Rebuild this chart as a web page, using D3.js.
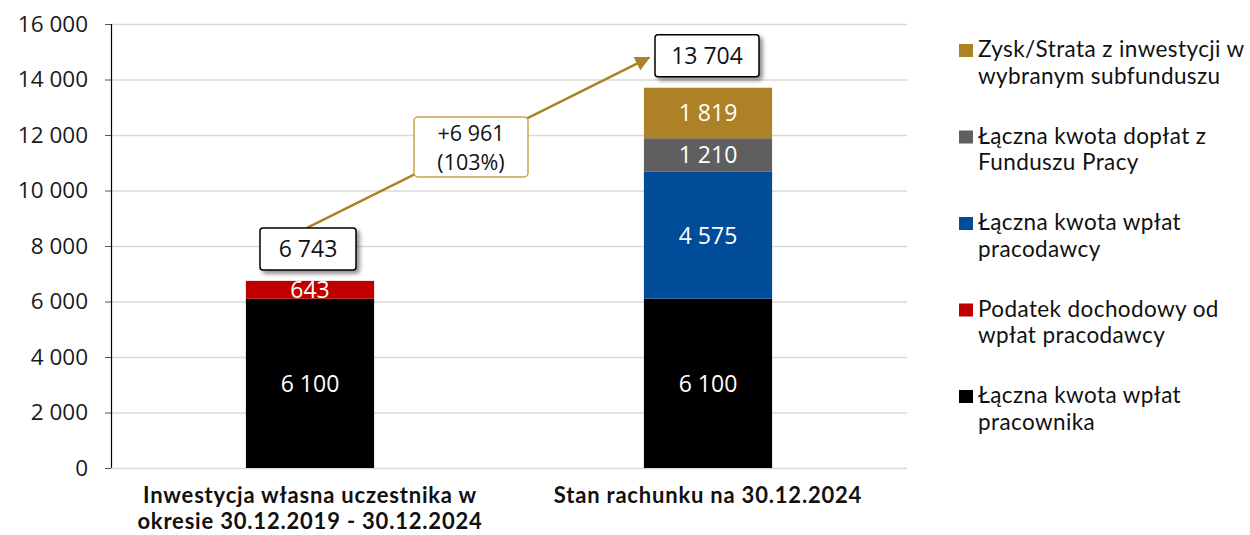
<!DOCTYPE html>
<html><head><meta charset="utf-8">
<script src="https://cdn.jsdelivr.net/npm/d3@7"></script>
<style>body{margin:0;background:#fff}svg{display:block}</style>
</head><body>
<svg id="c" width="1250" height="535"></svg>
<script>
const categories = ["Inwestycja własna uczestnika w|okresie 30.12.2019 - 30.12.2024", "Stan rachunku na 30.12.2024"];
const seriesNames = ["Łączna kwota wpłat pracownika", "Podatek dochodowy od wpłat pracodawcy", "Łączna kwota wpłat pracodawcy", "Łączna kwota dopłat z Funduszu Pracy", "Zysk/Strata z inwestycji w wybranym subfunduszu"];
const employee = [6100, 6100];
const tax = [643, 0];
const employer = [0, 4575];
const fundusz = [0, 1210];
const profit = [0, 1819];
const totals = [6743, 13704];
const diffLabel = ["+6 961", "(103%)"];
const yTicks = [0, 2000, 4000, 6000, 8000, 10000, 12000, 14000, 16000];
const legendLines = [
  ["Zysk/Strata z inwestycji w", "wybranym subfunduszu"],
  ["Łączna kwota dopłat z", "Funduszu Pracy"],
  ["Łączna kwota wpłat", "pracodawcy"],
  ["Podatek dochodowy od", "wpłat pracodawcy"],
  ["Łączna kwota wpłat", "pracownika"]
];
const colors = ["#000000", "#c00000", "#004c99", "#5f5f5f", "#ad8125"];

const series = [employee, tax, employer, fundusz, profit];
const svg = d3.select("#c");
const fmt = v => d3.format(",")(v).replace(/,/g, " ");
const tickFont = "'Open Sans', 'Noto Sans', sans-serif";
const legFont = "Lato, 'Noto Sans', sans-serif";

const x = d3.scaleBand().domain(d3.range(categories.length)).range([111, 907]).padding(0);
const barW = x.step() * 0.322;
const y = d3.scaleLinear().domain([0, 16000]).range([468, 24]);

const defs = svg.append("defs");
const f = defs.append("filter").attr("id","sh").attr("x","-20%").attr("y","-20%").attr("width","150%").attr("height","160%");
f.append("feDropShadow").attr("dx",3).attr("dy",3).attr("stdDeviation",2).attr("flood-color","#000").attr("flood-opacity",0.45);
const m = defs.append("marker").attr("id","ah").attr("viewBox","0 0 10 10").attr("refX",9).attr("refY",5)
  .attr("markerWidth",6).attr("markerHeight",6).attr("orient","auto-start-reverse").attr("markerUnits","strokeWidth");
m.append("path").attr("d","M0,0 L10,5 L0,10 z").attr("fill","#ad8125");

// gridlines
svg.append("g").selectAll("line").data(yTicks.slice(1)).join("line")
  .attr("x1",111).attr("x2",907).attr("y1",d=>y(d)+0.5).attr("y2",d=>y(d)+0.5)
  .attr("stroke","#d9d9d9").attr("stroke-width",1.5);

// axis
const ax = svg.append("g").attr("transform","translate(111,0)")
  .call(d3.axisLeft(y).tickValues(yTicks).tickFormat(fmt).tickSize(6).tickPadding(17));
ax.select(".domain").attr("stroke","#000").attr("stroke-width",1.2).attr("d","M0.5,"+y(16000)+"V"+y(0));
ax.selectAll(".tick line").attr("stroke","#555");
ax.selectAll(".tick text").attr("font-family",tickFont).attr("font-size",22.5).attr("fill","#1a1a1a");

// baseline
svg.append("line").attr("x1",111).attr("x2",907).attr("y1",y(0)+0.5).attr("y2",y(0)+0.5).attr("stroke","#d9d9d9").attr("stroke-width",1.5);

// bars
const stack = categories.map((c,i)=>{
  let acc=0; return series.map((s,k)=>{ const o={k, i, y0:acc, y1:acc+s[i], v:s[i]}; acc+=s[i]; return o; });
});
const segs = stack.flat().filter(d=>d.v>0);
svg.append("g").selectAll("rect").data(segs).join("rect")
  .attr("x",d=>x(d.i)+x.bandwidth()/2-barW/2).attr("width",barW)
  .attr("y",d=>y(d.y1)).attr("height",d=>y(d.y0)-y(d.y1))
  .attr("fill",d=>colors[d.k]);
svg.append("g").selectAll("text").data(segs).join("text")
  .attr("x",d=>x(d.i)+x.bandwidth()/2)
  .attr("y",d=>(y(d.y0)+y(d.y1))/2)
  .attr("dy","0.36em").attr("text-anchor","middle")
  .attr("font-family",tickFont).attr("font-size",23).attr("fill","#fff")
  .text(d=>fmt(d.v));

// total callouts
const boxes = totals.map((t,i)=>{
  const cx = x(i)+x.bandwidth()/2 - 2 + (i===1? 1:0);
  const w = i===0 ? 96 : 104, h = 42;
  const top = y(t) - 11 - h;
  return {cx, w, h, top, t};
});

// arrow (drawn before boxes)
const a0 = [boxes[0].cx - 1, boxes[0].top], a1 = [boxes[1].cx - boxes[1].w/2 - 6, boxes[1].top + 23];
svg.append("line").attr("x1",a0[0]).attr("y1",a0[1]).attr("x2",a1[0]).attr("y2",a1[1])
  .attr("stroke","#ad8125").attr("stroke-width",2.5).attr("marker-end","url(#ah)");

const bg = svg.append("g");
boxes.forEach(b=>{
  bg.append("rect").attr("x",b.cx-b.w/2).attr("y",b.top).attr("width",b.w).attr("height",b.h)
    .attr("rx",3).attr("fill","#fff").attr("stroke","#000").attr("stroke-width",1.5).attr("filter","url(#sh)");
  bg.append("text").attr("x",b.cx).attr("y",b.top+b.h/2).attr("dy","0.36em").attr("text-anchor","middle")
    .attr("font-family",tickFont).attr("font-size",23).attr("fill","#111").text(fmt(b.t));
});

// diff box
const mx = 471, my = 147;
svg.append("rect").attr("x",mx-57).attr("y",my-30).attr("width",114).attr("height",60).attr("rx",4)
  .attr("fill","#fff").attr("stroke","#c9a24e").attr("stroke-width",1.5);
svg.append("text").attr("x",mx).attr("text-anchor","middle").attr("font-family",tickFont).attr("font-size",21.5).attr("fill","#111")
  .selectAll("tspan").data(diffLabel).join("tspan").attr("x",mx).attr("y",(d,i)=>my-6+i*29).text(d=>d);

// x labels
svg.append("g").selectAll("text").data(categories).join("text")
  .attr("text-anchor","middle").attr("font-family",legFont).attr("font-weight","bold").attr("font-size",22)
  .attr("letter-spacing",0.8).attr("fill","#111")
  .each(function(d,i){
    const parts = d.split("|");
    d3.select(this).selectAll("tspan").data(parts).join("tspan")
      .attr("x",x(i)+x.bandwidth()/2).attr("y",(p,j)=>503+j*26).text(p=>p);
  });

// legend
const lg = svg.append("g");
legendLines.forEach((lines,i)=>{
  const k = 4 - i;
  const ty = 57 + i*86.5;
  lg.append("rect").attr("x",959).attr("y",ty-13).attr("width",14).attr("height",13).attr("fill",colors[k]);
  lines.forEach((l,j)=>lg.append("text").attr("x",978).attr("y",ty+j*26.5).attr("font-family",legFont)
    .attr("font-size",22.5).attr("letter-spacing",0.4).attr("fill","#111").text(l));
});
</script>
</body></html>
